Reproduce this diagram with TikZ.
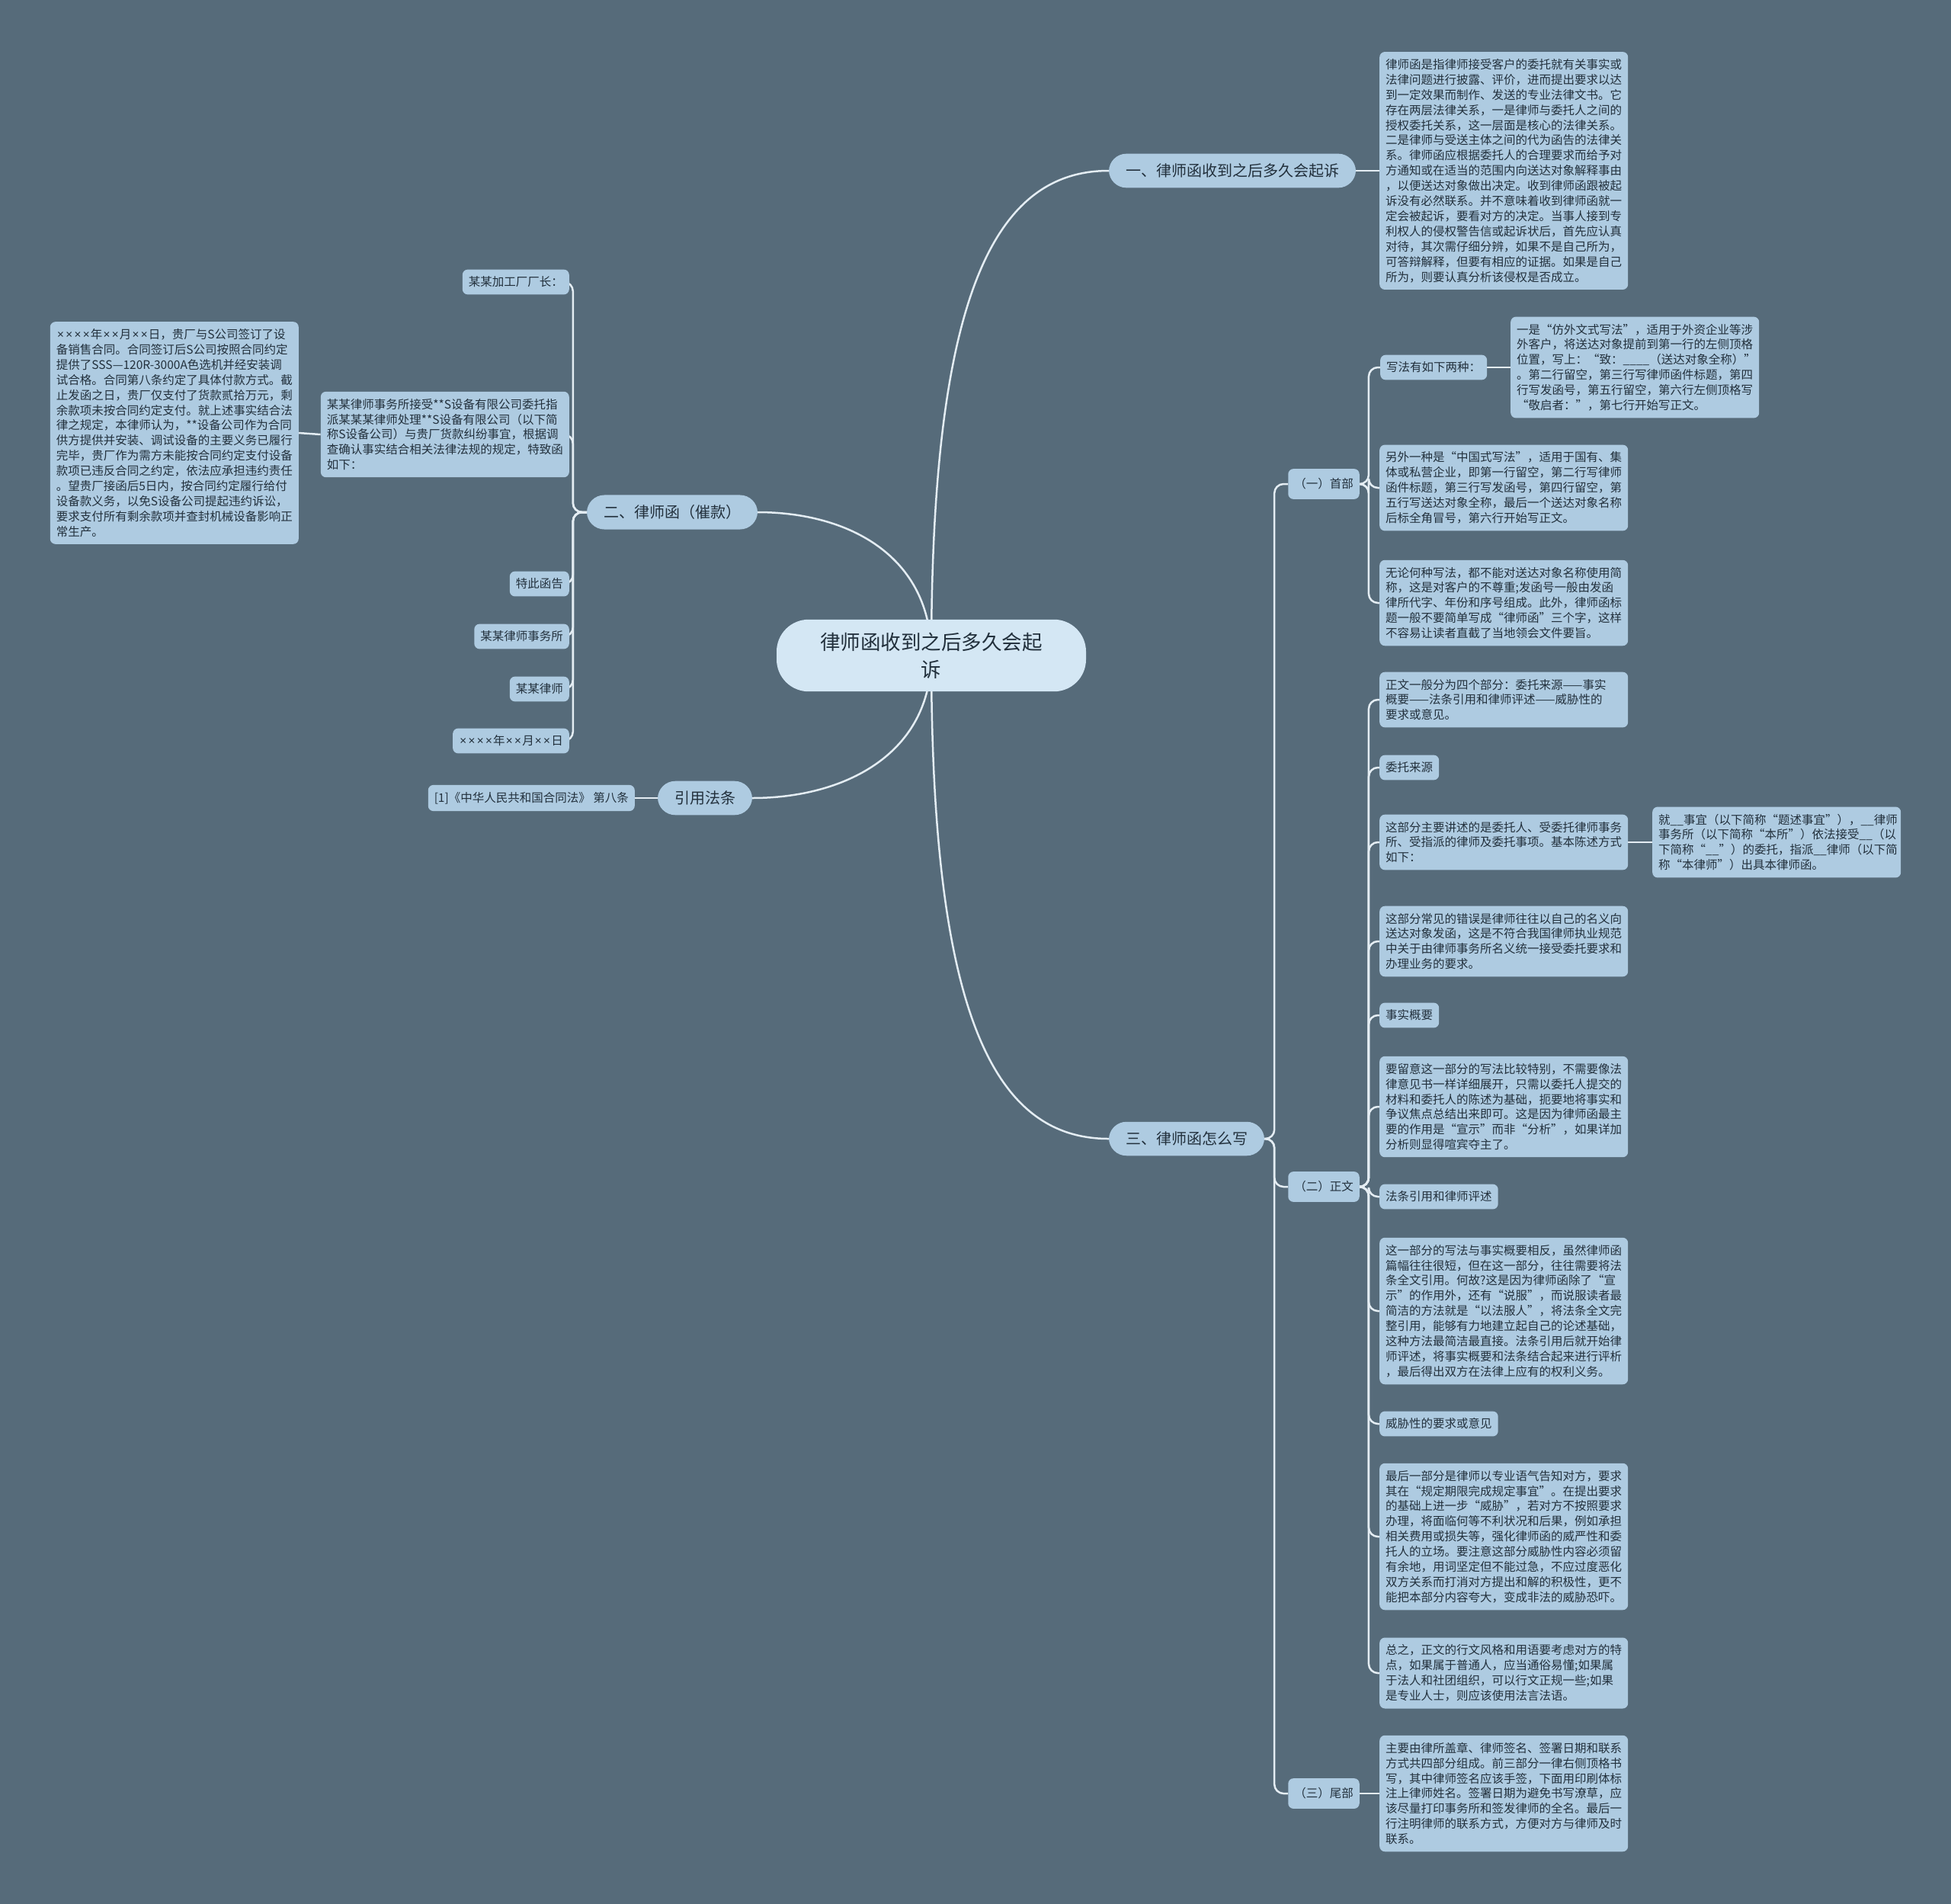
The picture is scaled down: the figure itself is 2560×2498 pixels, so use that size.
\documentclass[tikz,border=0pt]{standalone}
\usepackage{fontspec}
\setmainfont{Noto Sans CJK SC}
\newfontfamily\latinfont{Noto Sans}
\newcommand{\timesx}{{\kern1.2pt\latinfont ×\kern1.2pt}}
\usetikzlibrary{backgrounds}
\definecolor{bgcol}{HTML}{566B7A}
\definecolor{boxcol}{HTML}{AECBE1}
\definecolor{rootcol}{HTML}{D4E7F4}
\definecolor{inkcol}{HTML}{22303C}
\definecolor{linecol}{HTML}{E4EDF3}
\tikzset{
  box/.style={fill=boxcol, text=inkcol, rounded corners=7pt, inner xsep=8pt, inner ysep=9.25pt, font=\fontsize{15.5}{19.9}\selectfont},
  para/.style={box, text width=310pt, align=left},
  sec/.style={box, inner ysep=12.5pt},
  pill/.style={fill=boxcol, text=inkcol, rounded corners=23pt, inner xsep=22pt, inner ysep=13pt, font=\fontsize{20}{24}\selectfont},
  link/.style={draw=linecol, line width=2.5pt},
  elbow/.style={link, rounded corners=12pt},
}
\begin{document}
\begin{tikzpicture}[x=1pt,y=-1pt]
  \useasboundingbox (0,0) rectangle (2560,2498);
  % root and main branches
  \node[fill=rootcol, text=inkcol, rounded corners=42pt, text width=294pt, align=center,
        inner xsep=56pt, inner ysep=17pt, font=\fontsize{26.5}{36}\selectfont]
        (root) at (1222,860) {律师函收到之后多久会起\\诉};
  \node[pill] (one) at (1617,224) {一、律师函收到之后多久会起诉};
  \node[pill] (two) at (882,672) {二、律师函（催款）};
  \node[pill] (three) at (1557,1494) {三、律师函怎么写};
  \node[pill] (cite) at (925,1047) {引用法条};
  % branch one
  \node[para, anchor=west] (oneText) at (1810,224) {律师函是指律师接受客户的委托就有关事实或\\法律问题进行披露、评价，进而提出要求以达\\到一定效果而制作、发送的专业法律文书。它\\存在两层法律关系，一是律师与委托人之间的\\授权委托关系，这一层面是核心的法律关系。\\二是律师与受送主体之间的代为函告的法律关\\系。律师函应根据委托人的合理要求而给予对\\方通知或在适当的范围内向送达对象解释事由\\，以便送达对象做出决定。收到律师函跟被起\\诉没有必然联系。并不意味着收到律师函就一\\定会被起诉，要看对方的决定。当事人接到专\\利权人的侵权警告信或起诉状后，首先应认真\\对待，其次需仔细分辨，如果不是自己所为，\\可答辩解释，但要有相应的证据。如果是自己\\所为，则要认真分析该侵权是否成立。};
  % branch two
  \node[box, anchor=east] (toFactory) at (747,370) {某某加工厂厂长：};
  \node[para, anchor=east] (intro) at (747,570) {某某律师事务所接受**S设备有限公司委托指\\派某某某律师处理**S设备有限公司（以下简\\称S设备公司）与贵厂货款纠纷事宜，根据调\\查确认事实结合相关法律法规的规定，特致函\\如下：};
  \node[para, anchor=east] (facts) at (392,568) {\timesx\timesx\timesx\timesx 年\timesx\timesx 月\timesx\timesx 日，贵厂与S公司签订了设\\备销售合同。合同签订后S公司按照合同约定\\提供了SSS—120R-3000A色选机并经安装调\\试合格。合同第八条约定了具体付款方式。截\\止发函之日，贵厂仅支付了货款贰拾万元，剩\\余款项未按合同约定支付。就上述事实结合法\\律之规定，本律师认为，**设备公司作为合同\\供方提供并安装、调试设备的主要义务已履行\\完毕，贵厂作为需方未能按合同约定支付设备\\款项已违反合同之约定，依法应承担违约责任\\。望贵厂接函后5日内，按合同约定履行给付\\设备款义务，以免S设备公司提起违约诉讼，\\要求支付所有剩余款项并查封机械设备影响正\\常生产。};
  \node[box, anchor=east] (notice) at (747,766) {特此函告};
  \node[box, anchor=east] (firm) at (747,835) {某某律师事务所};
  \node[box, anchor=east] (lawyer) at (747,904) {某某律师};
  \node[box, anchor=east] (date) at (747,972) {\timesx\timesx\timesx\timesx 年\timesx\timesx 月\timesx\timesx 日};
  % cited law
  \node[box, anchor=east] (law) at (833,1047) {[1]《中华人民共和国合同法》 第八条};
  % branch three
  \node[sec] (head) at (1737,635) {（一）首部};
  \node[sec] (body) at (1737,1557) {（二）正文};
  \node[sec] (tail) at (1737,2353) {（三）尾部};
  % head part
  \node[box, anchor=west] (twoWays) at (1811,482) {写法有如下两种：};
  \node[para, anchor=west] (foreignWay) at (1982,482) {一是“仿外文式写法”，适用于外资企业等涉\\外客户，将送达对象提前到第一行的左侧顶格\\位置，写上：“致：\_\_\_\_（送达对象全称）”\\。第二行留空，第三行写律师函件标题，第四\\行写发函号，第五行留空，第六行左侧顶格写\\“敬启者：”，第七行开始写正文。};
  \node[para, anchor=west] (chineseWay) at (1810,640) {另外一种是“中国式写法”，适用于国有、集\\体或私营企业，即第一行留空，第二行写律师\\函件标题，第三行写发函号，第四行留空，第\\五行写送达对象全称，最后一个送达对象名称\\后标全角冒号，第六行开始写正文。};
  \node[para, anchor=west] (noShort) at (1810,791) {无论何种写法，都不能对送达对象名称使用简\\称，这是对客户的不尊重;发函号一般由发函\\律所代字、年份和序号组成。此外，律师函标\\题一般不要简单写成“律师函”三个字，这样\\不容易让读者直截了当地领会文件要旨。};
  % body part
  \node[para, anchor=west] (parts) at (1810,918) {正文一般分为四个部分：委托来源——事实\\概要——法条引用和律师评述——威胁性的\\要求或意见。};
  \node[box, anchor=west] (source) at (1810,1007) {委托来源};
  \node[para, anchor=west] (sourceText) at (1810,1105) {这部分主要讲述的是委托人、受委托律师事务\\所、受指派的律师及委托事项。基本陈述方式\\如下：};
  \node[para, anchor=west] (sourceForm) at (2168,1105) {就\_\_事宜（以下简称“题述事宜”），\_\_律师\\事务所（以下简称“本所”）依法接受\_\_（以\\下简称“\_\_”）的委托，指派\_\_律师（以下简\\称“本律师”）出具本律师函。};
  \node[para, anchor=west] (sourceErr) at (1810,1235) {这部分常见的错误是律师往往以自己的名义向\\送达对象发函，这是不符合我国律师执业规范\\中关于由律师事务所名义统一接受委托要求和\\办理业务的要求。};
  \node[box, anchor=west] (summary) at (1810,1332) {事实概要};
  \node[para, anchor=west] (summaryText) at (1810,1452) {要留意这一部分的写法比较特别，不需要像法\\律意见书一样详细展开，只需以委托人提交的\\材料和委托人的陈述为基础，扼要地将事实和\\争议焦点总结出来即可。这是因为律师函最主\\要的作用是“宣示”而非“分析”，如果详加\\分析则显得喧宾夺主了。};
  \node[box, anchor=west] (citing) at (1810,1570) {法条引用和律师评述};
  \node[para, anchor=west] (citingText) at (1810,1720) {这一部分的写法与事实概要相反，虽然律师函\\篇幅往往很短，但在这一部分，往往需要将法\\条全文引用。何故?这是因为律师函除了“宣\\示”的作用外，还有“说服”，而说服读者最\\简洁的方法就是“以法服人”，将法条全文完\\整引用，能够有力地建立起自己的论述基础，\\这种方法最简洁最直接。法条引用后就开始律\\师评述，将事实概要和法条结合起来进行评析\\，最后得出双方在法律上应有的权利义务。};
  \node[box, anchor=west] (demand) at (1810,1868) {威胁性的要求或意见};
  \node[para, anchor=west] (demandText) at (1810,2016) {最后一部分是律师以专业语气告知对方，要求\\其在“规定期限完成规定事宜”。在提出要求\\的基础上进一步“威胁”，若对方不按照要求\\办理，将面临何等不利状况和后果，例如承担\\相关费用或损失等，强化律师函的威严性和委\\托人的立场。要注意这部分威胁性内容必须留\\有余地，用词坚定但不能过急，不应过度恶化\\双方关系而打消对方提出和解的积极性，更不\\能把本部分内容夸大，变成非法的威胁恐吓。};
  \node[para, anchor=west] (style) at (1810,2195) {总之，正文的行文风格和用语要考虑对方的特\\点，如果属于普通人，应当通俗易懂;如果属\\于法人和社团组织，可以行文正规一些;如果\\是专业人士，则应该使用法言法语。};
  % tail part
  \node[para, anchor=west] (sign) at (1810,2353) {主要由律所盖章、律师签名、签署日期和联系\\方式共四部分组成。前三部分一律右侧顶格书\\写，其中律师签名应该手签，下面用印刷体标\\注上律师姓名。签署日期为避免书写潦草，应\\该尽量打印事务所和签发律师的全名。最后一\\行注明律师的联系方式，方便对方与律师及时\\联系。};
  % connectors
  \begin{scope}[on background layer]
    \fill[bgcol] (0,0) rectangle (2560,2498);
    \draw[link] (root.center) .. controls +(0,-460) and +(-155,0) .. (one.west);
    \draw[link] (root.center) .. controls +(0,460) and +(-155,0) .. (three.west);
    \draw[link] (root.center) .. controls +(0,-130) and +(120,0) .. (two.east);
    \draw[link] (root.center) .. controls +(0,130) and +(120,0) .. (cite.east);
    \draw[link] (one.east) -- (oneText.west);
    \draw[link] (cite.west) -- (law.east);
    \draw[elbow] (two.west) -- ++(-18,0) |- (toFactory.east);
    \draw[elbow] (two.west) -- ++(-18,0) |- (intro.east);
    \draw[elbow] (two.west) -- ++(-18,0) |- (notice.east);
    \draw[elbow] (two.west) -- ++(-18,0) |- (firm.east);
    \draw[elbow] (two.west) -- ++(-18,0) |- (lawyer.east);
    \draw[elbow] (two.west) -- ++(-18,0) |- (date.east);
    \draw[link] (intro.west) -- (facts.east);
    \draw[elbow] (three.east) -- ++(13,0) |- (head.west);
    \draw[elbow] (three.east) -- ++(13,0) |- (body.west);
    \draw[elbow] (three.east) -- ++(13,0) |- (tail.west);
    \draw[elbow] (head.east) -- ++(12,0) |- (twoWays.west);
    \draw[elbow] (head.east) -- ++(12,0) |- (chineseWay.west);
    \draw[elbow] (head.east) -- ++(12,0) |- (noShort.west);
    \draw[link] (twoWays.east) -- (foreignWay.west);
    \draw[elbow] (body.east) -- ++(12,0) |- (parts.west);
    \draw[elbow] (body.east) -- ++(12,0) |- (source.west);
    \draw[elbow] (body.east) -- ++(12,0) |- (sourceText.west);
    \draw[elbow] (body.east) -- ++(12,0) |- (sourceErr.west);
    \draw[elbow] (body.east) -- ++(12,0) |- (summary.west);
    \draw[elbow] (body.east) -- ++(12,0) |- (summaryText.west);
    \draw[elbow] (body.east) -- ++(12,0) |- (citing.west);
    \draw[elbow] (body.east) -- ++(12,0) |- (citingText.west);
    \draw[elbow] (body.east) -- ++(12,0) |- (demand.west);
    \draw[elbow] (body.east) -- ++(12,0) |- (demandText.west);
    \draw[elbow] (body.east) -- ++(12,0) |- (style.west);
    \draw[link] (sourceText.east) -- (sourceForm.west);
    \draw[link] (tail.east) -- (sign.west);
  \end{scope}
\end{tikzpicture}
\end{document}
